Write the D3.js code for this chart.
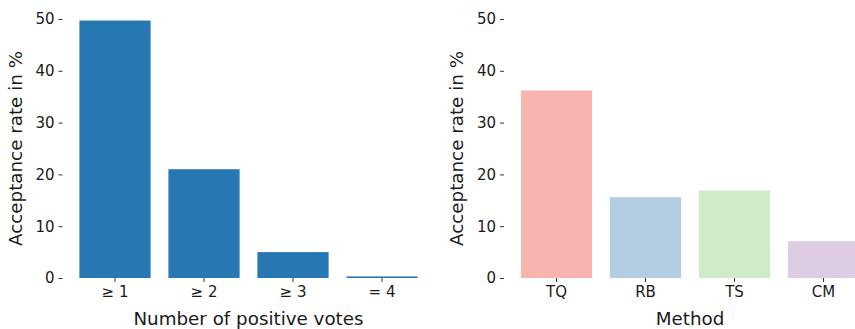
<!DOCTYPE html>
<html>
<head>
<meta charset="utf-8">
<script src="https://cdn.jsdelivr.net/npm/d3@7"></script>
<style>
  body { margin: 0; background: #fff; }
  text { font-family: "DejaVu Sans", sans-serif; fill: #1a1a1a; }
</style>
</head>
<body>
<script>
// left panel data
var votes = ["\u2265 1", "\u2265 2", "\u2265 3", "= 4"];
var votesRate = [49.7, 21.0, 5.0, 0.3];

// right panel data
var methods = ["TQ", "RB", "TS", "CM"];
var methodRate = [36.2, 15.6, 16.9, 7.1];
var methodColors = ["#f8b4ae", "#b3cde3", "#cfebc7", "#decbe4"];

var yTicks = [0, 10, 20, 30, 40, 50];

var W = 855, H = 329,
    plotTop = 19, plotBottom = 278;

var svg = d3.select("body")
    .append("svg")
    .attr("width", W)
    .attr("height", H);

var y = d3.scaleLinear()
    .domain([0, 50])
    .range([plotBottom, plotTop]);

function panel(x0, cats, vals, colors, xlabel) {
    var g = svg.append("g");

    var x = d3.scaleBand()
        .domain(cats)
        .range([x0, x0 + 372])
        .paddingInner(0.2)
        .paddingOuter(0.19);

    //bars
    g.selectAll("rect")
        .data(vals)
        .enter()
        .append("rect")
        .attr("x", function (d, i) { return x(cats[i]); })
        .attr("width", x.bandwidth())
        .attr("y", function (d) { return y(d); })
        .attr("height", function (d) { return y(0) - y(d); })
        .style("fill", function (d, i) { return colors[i]; });

    //y axis, spine hidden
    var ya = g.append("g")
        .attr("transform", "translate(" + x0 + ",0)")
        .call(d3.axisLeft(y).tickValues(yTicks).tickSize(4).tickPadding(4));
    ya.select(".domain").remove();

    //x axis
    var xa = g.append("g")
        .attr("transform", "translate(0," + plotBottom + ")")
        .call(d3.axisBottom(x).tickSize(4).tickPadding(4));
    xa.select(".domain").remove();

    g.selectAll(".tick line").style("stroke", "#333");
    g.selectAll(".tick text")
        .style("font-size", "15px")
        .style("font-family", "DejaVu Sans")
        .style("fill", "#1a1a1a");

    g.append("text")
        .attr("x", x0 + 186)
        .attr("y", 325)
        .attr("text-anchor", "middle")
        .style("font-size", "18.3px")
        .text(xlabel);

    g.append("text")
        .attr("transform", "translate(" + (x0 - 41) + "," + ((plotTop + plotBottom) / 2) + ") rotate(-90)")
        .attr("text-anchor", "middle")
        .style("font-size", "18.3px")
        .text("Acceptance rate in %");
}

panel(62.5, votes, votesRate, votes.map(function () { return "#2777b3"; }), "Number of positive votes");
panel(504, methods, methodRate, methodColors, "Method");
</script>
</body>
</html>
